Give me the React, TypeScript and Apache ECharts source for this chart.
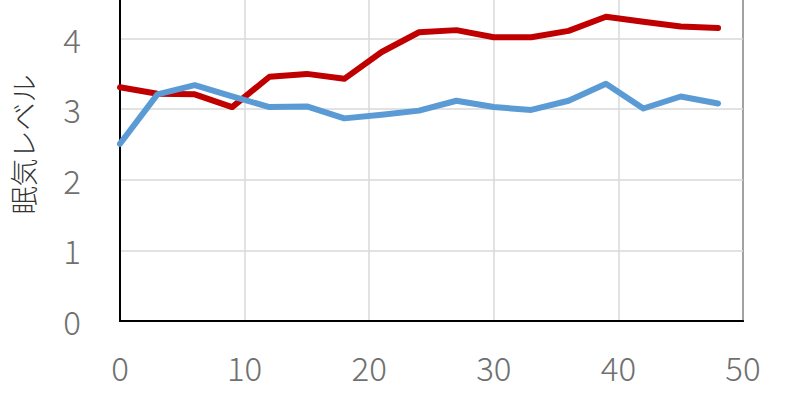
import React, { useEffect, useRef } from "react";
import * as echarts from "echarts";

const xValues = [0, 3, 6, 9, 12, 15, 18, 21, 24, 27, 30, 33, 36, 39, 42, 45, 48];
const redValues = [3.31, 3.22, 3.21, 3.03, 3.46, 3.5, 3.43, 3.81, 4.09, 4.12, 4.02, 4.02, 4.11, 4.31, 4.24, 4.17, 4.15];
const blueValues = [2.51, 3.21, 3.34, 3.18, 3.03, 3.04, 2.87, 2.92, 2.98, 3.12, 3.03, 2.99, 3.12, 3.36, 3.01, 3.18, 3.08];
const yAxisName = "眠気レベル";

export default function App() {
  const ref = useRef<HTMLDivElement>(null);
  useEffect(() => {
    if (!ref.current) return;
    const chart = echarts.init(ref.current, undefined, { renderer: "svg" });
    const font = "'Noto Sans CJK JP', 'Noto Sans', sans-serif";
    chart.setOption({
      animation: false,
      grid: {
        left: 120,
        right: 57,
        top: 0,
        bottom: 79,
        outerBoundsMode: "none",
        containLabel: false,
        show: true,
        borderColor: "#000",
        borderWidth: 2,
        backgroundColor: "#fff",
      },
      xAxis: {
        type: "value",
        min: 0,
        max: 50,
        interval: 10,
        axisLine: { show: true, lineStyle: { color: "#000", width: 2 } },
        axisTick: { show: false },
        splitLine: { show: true, lineStyle: { color: "#d9d9d9", width: 1.5 } },
        axisLabel: { color: "#707070", fontSize: 33, fontWeight: 300, fontFamily: font, margin: 29 },
      },
      yAxis: {
        type: "value",
        min: 0,
        max: 5,
        interval: 1,
        name: yAxisName,
        nameLocation: "middle",
        nameGap: 83,
        nameRotate: 90,
        nameTextStyle: { color: "#333", fontSize: 28, fontWeight: 300, fontFamily: font },
        axisLine: { show: true, lineStyle: { color: "#000", width: 2 } },
        axisTick: { show: false },
        splitLine: { show: true, lineStyle: { color: "#d9d9d9", width: 1.5 } },
        axisLabel: { color: "#707070", fontSize: 33, fontWeight: 300, fontFamily: font, margin: 39, showMaxLabel: false },
      },
      series: [
        {
          type: "line",
          data: xValues.map((x, i) => [x, redValues[i]]),
          showSymbol: false,
          lineStyle: { color: "#C00000", width: 6, cap: "round", join: "round" },
          itemStyle: { color: "#C00000" },
        },
        {
          type: "line",
          data: xValues.map((x, i) => [x, blueValues[i]]),
          showSymbol: false,
          lineStyle: { color: "#5B9BD5", width: 6, cap: "round", join: "round" },
          itemStyle: { color: "#5B9BD5" },
        },
      ],
    });
    return () => chart.dispose();
  }, []);
  return (
    <div style={{ position: "fixed", left: 0, top: 0, width: 800, height: 400, overflow: "hidden", background: "#fff" }}>
      <div ref={ref} style={{ width: 800, height: 432, position: "absolute", left: 0, top: -32 }} />
    </div>
  );
}
